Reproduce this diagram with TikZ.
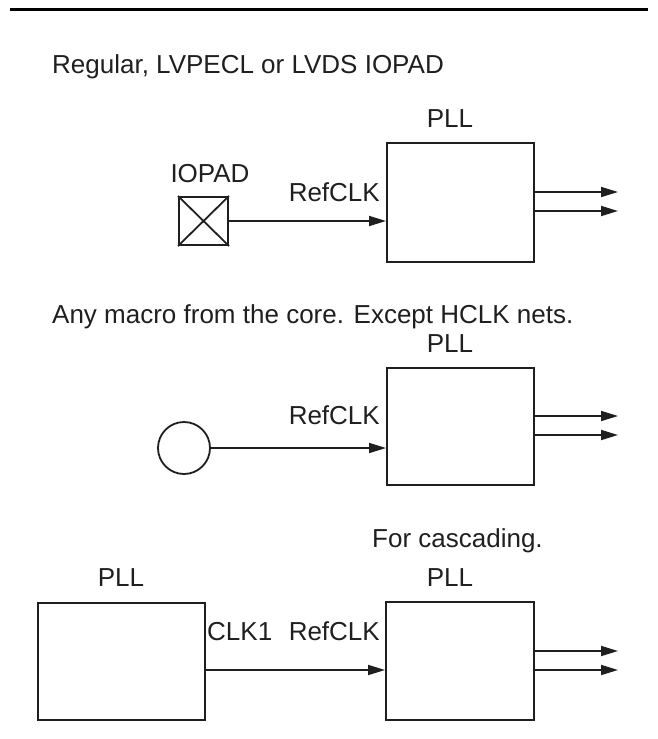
\documentclass[tikz,border=0pt]{standalone}
\usepackage{fontspec}
\setmainfont{Liberation Sans}
\usetikzlibrary{arrows.meta}
\begin{document}
\begin{tikzpicture}[x=1pt,y=-1pt,
  txt/.style={inner sep=0pt,font=\fontsize{26}{31}\selectfont,text=black!88},
  blk/.style={draw=black!88,line width=2pt,inner sep=0pt,anchor=north west},
  sig/.style={draw=black!88,line width=1.8pt,-{Triangle[length=17pt,width=10pt]}}]
\useasboundingbox (0,0) rectangle (657,739);
% top rule
\coordinate (r1) at (10,9);
\coordinate (r2) at (648,9);
\draw[line width=3pt] (r1) -- (r2);

% ---------- section 1 ----------
\node[txt,anchor=base west] (t1) at (52,73) {Regular, LVPECL or LVDS IOPAD};
\node[blk,minimum width=147pt,minimum height=119pt] (pll1) at (386,142) {};
\node[txt,anchor=base] (pl1) at (450,127) {PLL};
\node[blk,minimum width=49pt,minimum height=48pt] (pad) at (178,196) {};
\draw[line width=1.8pt,black!88] (pad.north west) -- (pad.south east) (pad.north east) -- (pad.south west);
\node[txt,anchor=base] (padl) at (210,182) {IOPAD};
\node[txt,anchor=base east] (rc1) at (380,201) {RefCLK};
\draw[sig] (pad.east) -- (pad.east -| pll1.west);
\coordinate (o1a) at (618,192);
\coordinate (o1b) at (618,211);
\draw[sig] (o1a -| pll1.east) -- (o1a);
\draw[sig] (o1b -| pll1.east) -- (o1b);

% ---------- section 2 ----------
\node[txt,anchor=base west] (t2) at (52,323) {Any macro from the core. Except HCLK nets.};
\node[blk,minimum width=147pt,minimum height=117pt] (pll2) at (386,367) {};
\node[txt,anchor=base] (pl2) at (450,352) {PLL};
\node[draw=black!88,line width=1.8pt,circle,minimum size=52pt,inner sep=0pt] (mac) at (184,448) {};
\node[txt,anchor=base east] (rc2) at (380,424) {RefCLK};
\draw[sig] (mac.east) -- (mac.east -| pll2.west);
\coordinate (o2a) at (618,416);
\coordinate (o2b) at (618,435);
\draw[sig] (o2a -| pll2.east) -- (o2a);
\draw[sig] (o2b -| pll2.east) -- (o2b);

% ---------- section 3 ----------
\node[txt,anchor=base west] (t3) at (372,547) {For cascading.};
\node[blk,minimum width=167pt,minimum height=117pt] (pll3a) at (37,602) {};
\node[blk,minimum width=148pt,minimum height=118pt] (pll3b) at (385,601) {};
\node[txt,anchor=base] (pl3a) at (121,586) {PLL};
\node[txt,anchor=base] (pl3b) at (450,586) {PLL};
\node[txt,anchor=base west] (ck1) at (207,640) {CLK1};
\node[txt,anchor=base east] (rc3) at (380,640) {RefCLK};
\coordinate (i3) at (204,670);
\draw[sig] (i3 -| pll3a.east) -- (i3 -| pll3b.west);
\coordinate (o3a) at (618,651);
\coordinate (o3b) at (618,670);
\draw[sig] (o3a -| pll3b.east) -- (o3a);
\draw[sig] (o3b -| pll3b.east) -- (o3b);
\end{tikzpicture}
\end{document}
